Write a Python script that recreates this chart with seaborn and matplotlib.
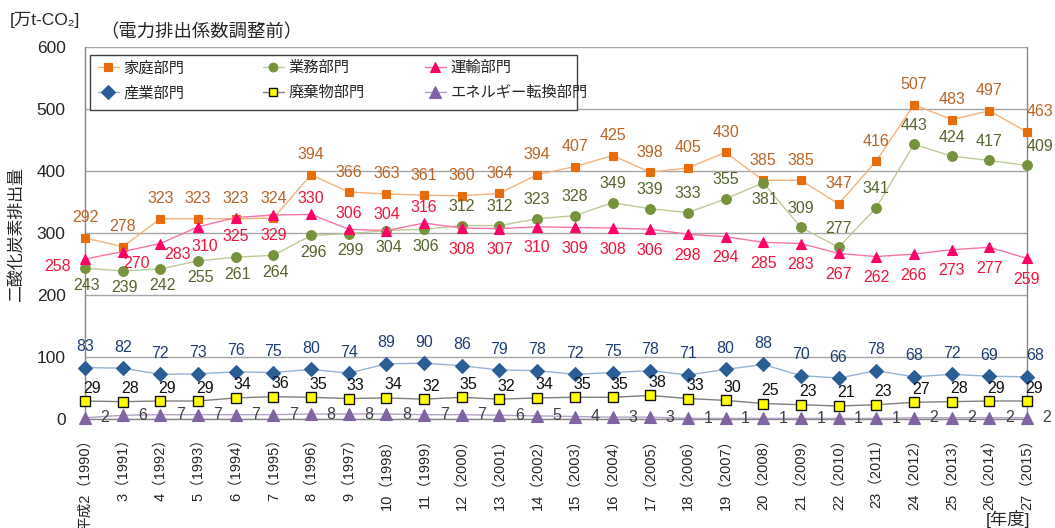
import matplotlib
matplotlib.use("Agg")
import matplotlib.pyplot as plt
import seaborn as sns
import pandas as pd
from matplotlib.patches import Rectangle
from matplotlib.lines import Line2D

# ---- data -------------------------------------------------------------
years = list(range(1990, 2016))
heisei = list(range(2, 28))

household = [292, 278, 323, 323, 323, 324, 394, 366, 363, 361, 360, 364, 394,
             407, 425, 398, 405, 430, 385, 385, 347, 416, 507, 483, 497, 463]
commercial = [243, 239, 242, 255, 261, 264, 296, 299, 304, 306, 312, 312, 323,
              328, 349, 339, 333, 355, 381, 309, 277, 341, 443, 424, 417, 409]
transport = [258, 270, 283, 310, 325, 329, 330, 306, 304, 316, 308, 307, 310,
             309, 308, 306, 298, 294, 285, 283, 267, 262, 266, 273, 277, 259]
industry = [83, 82, 72, 73, 76, 75, 80, 74, 89, 90, 86, 79, 78,
            72, 75, 78, 71, 80, 88, 70, 66, 78, 68, 72, 69, 68]
waste = [29, 28, 29, 29, 34, 36, 35, 33, 34, 32, 35, 32, 34,
         35, 35, 38, 33, 30, 25, 23, 21, 23, 27, 28, 29, 29]
energy = [2, 6, 7, 7, 7, 7, 8, 8, 8, 7, 7, 6, 5,
          4, 3, 3, 1, 1, 1, 1, 1, 1, 2, 2, 2, 2]

names = ["家庭部門", "業務部門", "運輸部門", "産業部門", "廃棄物部門", "エネルギー転換部門"]
values = [household, commercial, transport, industry, waste, energy]

tick_labels = [("平成" if i == 0 else "") + f"{h}（{y}）"
               for i, (h, y) in enumerate(zip(heisei, years))]

# ---- styles -----------------------------------------------------------
styles = {
    "家庭部門": dict(line="#F7B27A", marker="s", mfc="#E66C0C", mec="#E66C0C", ms=6.0, mew=0.8, text="#BA6428"),
    "業務部門": dict(line="#BCCB98", marker="o", mfc="#76923C", mec="#76923C", ms=7.0, mew=0.8, text="#56652C"),
    "運輸部門": dict(line="#F774A8", marker="^", mfc="#FF0066", mec="#FF0066", ms=7.5, mew=0.8, text="#F0143C"),
    "産業部門": dict(line="#95B3D7", marker="D", mfc="#2B5D96", mec="#2B5D96", ms=7.5, mew=0.8, text="#1F3F73"),
    "廃棄物部門": dict(line="#808080", marker="s", mfc="#FFFF00", mec="#111111", ms=6.5, mew=1.0, text="#111111"),
    "エネルギー転換部門": dict(line="#B3A2C7", marker="^", mfc="#8064A2", mec="#8064A2", ms=9.0, mew=0.8, text="#404040"),
}

# label offsets (pixels) for each point
n = len(years)
off_household = [(0, 20)] * (n - 1) + [(13, 20)]
below_commercial = set(range(0, 10)) | {18}
off_commercial = [(2, -17) if i in below_commercial else (0, 19) for i in range(n)]
off_commercial[-1] = (13, 19)
off_transport = [(0, -21)] * n
off_transport[0] = (-27, -7)
off_transport[1] = (14, -12)
off_transport[2] = (17, -11)
off_transport[3] = (7, -20)
off_transport[4] = (0, -19)
off_transport[5] = (0, -20)
for i in (6, 7, 8, 9):
    off_transport[i] = (0, 16)
off_industry = [(0, 21)] * (n - 1) + [(8, 21)]
off_waste = [(7, 13)] * n
off_energy = [(20, 0)] * n
offsets = [off_household, off_commercial, off_transport, off_industry, off_waste, off_energy]

# ---- figure -----------------------------------------------------------
sns.set_style("white")
plt.rcParams["font.family"] = ["Liberation Sans", "Noto Sans CJK JP", "DejaVu Sans"]

W, H = 1055, 528
fig = plt.figure(figsize=(W / 100, H / 100), dpi=100)
ax = fig.add_axes([85 / W, 1 - 419 / H, (1027 - 85) / W, (419 - 47) / H])

df = pd.DataFrame({"year": years})
for i, (name, vals) in enumerate(zip(names, values)):
    st = styles[name]
    df[name] = vals
    sns.lineplot(data=df, x="year", y=name, ax=ax, color=st["line"], lw=1.0,
                 marker=st["marker"], markersize=st["ms"], markerfacecolor=st["mfc"],
                 markeredgecolor=st["mec"], markeredgewidth=st["mew"],
                 clip_on=False, zorder=3 + i, legend=False)

for name, vals, offs in zip(names, values, offsets):
    st = styles[name]
    for x, y, (dx, dy) in zip(years, vals, offs):
        ax.annotate(f"{y}", (x, y), xytext=(dx, dy), textcoords="offset pixels",
                    ha="center", va="center", color=st["text"], fontsize=11.5,
                    annotation_clip=False, zorder=10)

ax.set_xlim(years[0], years[-1])
ax.set_ylim(0, 600)
ax.set_yticks(range(0, 601, 100))
ax.set_xticks(years)
ax.set_xticklabels(tick_labels, rotation=90, va="top", ha="center")
ax.yaxis.grid(True, color="#A6A6A6", lw=1.0, zorder=0)
ax.xaxis.grid(False)
ax.set_axisbelow(True)
ax.set_xlabel("")
ax.set_ylabel("")
ax.tick_params(axis="y", length=0, pad=14, labelsize=12.5, colors="#262626")
ax.tick_params(axis="x", length=0, pad=9, labelsize=10.5, colors="#262626")
for side in ("left", "right", "bottom"):
    ax.spines[side].set_color("#868686")
    ax.spines[side].set_linewidth(1.0)
ax.spines["top"].set_visible(False)

# ---- legend: framed box with three columns -------------------------------
box = Rectangle((90 / W, 1 - 110 / H), 487 / W, 55 / H, transform=fig.transFigure,
                facecolor="white", edgecolor="#404040", lw=1.0, zorder=20)
fig.patches.append(box)

def handle(name):
    st = styles[name]
    return Line2D([], [], color=st["line"], lw=1.0, marker=st["marker"],
                  markersize=st["ms"] * 0.9, markerfacecolor=st["mfc"],
                  markeredgecolor=st["mec"], markeredgewidth=st["mew"])

columns = [(["家庭部門", "産業部門"], 95), (["業務部門", "廃棄物部門"], 260), (["運輸部門", "エネルギー転換部門"], 422)]
for col_names, x0 in columns:
    lg = fig.legend([handle(nm) for nm in col_names], col_names, loc="upper left",
                    bbox_to_anchor=(x0 / W, 1 - 58 / H), frameon=False, fontsize=11,
                    handlelength=1.35, handletextpad=0.3, labelspacing=0.72,
                    borderpad=0.2, borderaxespad=0)
    lg.set_zorder(21)

# ---- titles and axis captions -----------------------------------------
fig.text(10 / W, 1 - 20 / H, "[万t-CO₂]", fontsize=12.5, va="center", ha="left", color="#262626")
fig.text(100 / W, 1 - 33 / H, "（電力排出係数調整前）", fontsize=13.2, va="center", ha="left", color="#262626")
fig.text(17 / W, 1 - 235 / H, "二酸化炭素排出量", rotation=90, fontsize=12.2, ha="center", va="center", color="#262626")
fig.text(1030 / W, 1 - 519 / H, "[年度]", fontsize=12.5, ha="right", va="center", color="#262626")

fig.savefig("out.png", dpi=100)
